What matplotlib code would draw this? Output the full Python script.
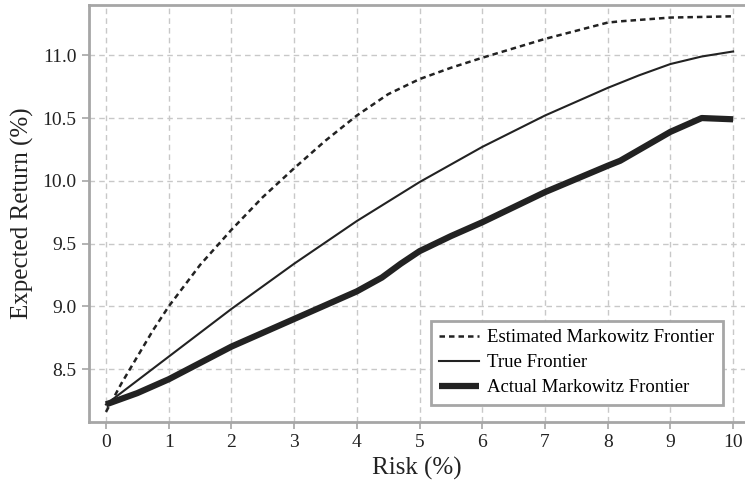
# Markowitz frontier comparison chart

import matplotlib
matplotlib.use('Agg')
import matplotlib.pyplot as plt

# Data
risk_est = [0, 0.25, 0.5, 0.75, 1, 1.5, 2, 2.5, 3, 3.5, 4, 4.5, 5, 5.5, 6, 7, 8, 8.2, 9, 10]
ret_est = [8.16, 8.39, 8.60, 8.81, 9.0, 9.33, 9.61, 9.87, 10.10, 10.32, 10.52, 10.69, 10.81, 10.90,
           10.98, 11.13, 11.26, 11.27, 11.30, 11.31]

risk_true = [0, 1, 2, 3, 4, 5, 6, 7, 8, 8.5, 9, 9.5, 10]
ret_true = [8.22, 8.60, 8.98, 9.34, 9.68, 9.99, 10.27, 10.52, 10.74, 10.84, 10.93, 10.99, 11.03]

risk_act = [0, 0.5, 1, 2, 3, 4, 4.4, 4.7, 5, 5.5, 6, 7, 8, 8.2, 9, 9.5, 10]
ret_act = [8.22, 8.31, 8.42, 8.68, 8.90, 9.12, 9.23, 9.34, 9.44, 9.56, 9.67, 9.91, 10.12, 10.16,
           10.39, 10.50, 10.49]

xticks = list(range(0, 11))
yticks = [8.5, 9.0, 9.5, 10.0, 10.5, 11.0]

plt.rcParams['font.family'] = ['Liberation Serif', 'DejaVu Serif']

fig = plt.figure(figsize=(7.45, 4.86), dpi=100)
ax = fig.add_axes([0.1195, 0.1317, 0.8805, 0.858])

ax.plot(risk_est, ret_est, color='#222222', lw=1.8, linestyle=(0, (2.2, 1.6)),
        label='Estimated Markowitz Frontier')
ax.plot(risk_true, ret_true, color='#222222', lw=1.5, label='True Frontier')
ax.plot(risk_act, ret_act, color='#222222', lw=4.5, solid_capstyle='butt',
        solid_joinstyle='round', label='Actual Markowitz Frontier')

ax.set_xlim(-0.27, 10.19)
ax.set_ylim(8.08, 11.4)
ax.set_xticks(xticks)
ax.set_yticks(yticks)
ax.set_yticklabels([f'{v:.1f}' for v in yticks])

ax.grid(True, color='#c8c8c8', linestyle=(0, (4, 3)), lw=1.0)
ax.set_axisbelow(True)

for side in ['left', 'top', 'bottom']:
    ax.spines[side].set_color('#a6a6a6')
    ax.spines[side].set_linewidth(2)
ax.spines['right'].set_visible(False)

ax.tick_params(axis='both', direction='out', length=5, width=1.2, color='#a6a6a6',
               labelsize=14, labelcolor='#222222', pad=4)
ax.tick_params(axis='x', top=False)

ax.set_xlabel('Risk (%)', fontsize=18, color='#222222', labelpad=4)
ax.set_ylabel('Expected Return (%)', fontsize=18, color='#222222', labelpad=6)

leg = ax.legend(loc='lower right', bbox_to_anchor=(0.966, 0.041), fontsize=13.5,
                frameon=True, fancybox=False, handlelength=2.1, handletextpad=0.45,
                borderpad=0.45, labelspacing=0.42, borderaxespad=0)
leg.get_frame().set_edgecolor('#a6a6a6')
leg.get_frame().set_linewidth(2)
leg.get_frame().set_facecolor('white')
leg.get_frame().set_alpha(1)

fig.savefig('out.png', dpi=100)
